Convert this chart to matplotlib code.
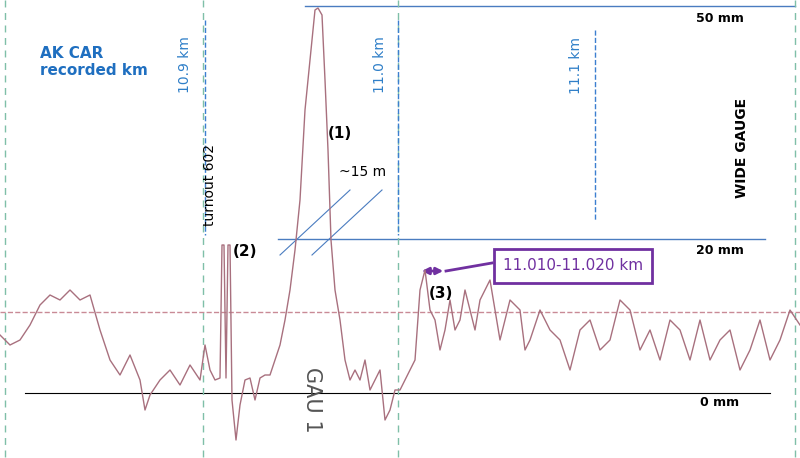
import numpy as np
import matplotlib.pyplot as plt
from matplotlib.patches import FancyArrowPatch

# trace: km position and gauge deviation (mm)
px = [0, 10, 20, 30, 40, 50, 60, 70, 80, 90, 100, 110, 120, 130, 140, 145, 150, 160, 170, 180,
      190, 200, 205, 210, 215, 220, 222, 224, 226, 228, 230, 232, 236, 240, 245, 250, 255, 260,
      265, 270, 275, 280, 285, 290, 295, 300, 305, 310, 315, 318, 322, 325, 328, 331, 335, 340,
      345, 350, 355, 360, 365, 370, 375, 380, 385, 390, 395, 400, 405, 410, 415, 420, 425, 430,
      435, 440, 445, 450, 455, 460, 465, 470, 475, 480, 490, 500, 505, 510, 520, 525, 530, 540,
      550, 560, 570, 580, 590, 600, 610, 620, 630, 640, 650, 660, 670, 680, 690, 700, 710, 720,
      730, 740, 750, 760, 770, 780, 790, 800]
py = [335, 345, 340, 325, 305, 295, 300, 290, 300, 295, 330, 360, 375, 355, 380, 410, 395, 380, 370, 385,
      365, 380, 345, 370, 380, 378, 245, 245, 378, 245, 245, 400, 440, 405, 380, 378, 400, 378,
      375, 375, 360, 345, 320, 290, 250, 200, 110, 60, 10, 8, 15, 80, 150, 240, 290, 320,
      360, 380, 370, 380, 360, 390, 380, 370, 420, 410, 390, 390, 380, 370, 360, 290, 270, 310,
      320, 350, 330, 300, 330, 320, 290, 310, 330, 300, 280, 340, 320, 300, 310, 350, 340, 310,
      330, 340, 370, 330, 320, 350, 340, 300, 310, 350, 330, 360, 320, 330, 360, 320, 360, 340,
      330, 370, 350, 320, 360, 340, 310, 325]

def km(x):
    return 10.9 + (np.asarray(x, float) - 203) / 1960.0

def mm(y):
    return (393 - np.asarray(y, float)) / 7.72

fig = plt.figure(figsize=(8, 4.58), dpi=100)
ax = fig.add_axes([0, 0, 1, 1])
ax.set_xlim(km(0), km(800))
ax.set_ylim(mm(458), mm(0))
ax.axis('off')

# reference lines
ax.plot(km([0, 800]), mm([312, 312]), '--', color='#c98a96', lw=1)
ax.plot(km([25, 770]), mm([393, 393]), color='black', lw=0.8)
ax.plot(km([305, 795]), mm([6, 6]), color='#4a7cc0', lw=1)
ax.plot(km([278, 765]), mm([239, 239]), color='#4a7cc0', lw=1)
for x in [5, 203, 398, 795]:
    ax.plot(km([x, x]), mm([0, 458]), ls=(0, (5, 4)), color='#7fbfa8', lw=1)
for x, y0, y1 in [(205, 20, 235), (398, 20, 235), (595, 30, 220)]:
    ax.plot(km([x, x]), mm([y0, y1]), '--', color='#3c7fd0', lw=1)

# diagonal "~15 m" markers
ax.plot(km([280, 350]), mm([255, 190]), color='#4a7cc0', lw=0.8)
ax.plot(km([312, 382]), mm([255, 190]), color='#4a7cc0', lw=0.8)

# trace
ax.plot(km(px), mm(py), color='#a8707e', lw=1)

blue = '#2f7fc8'
ax.text(km(40), mm(62), 'AK CAR\nrecorded km', color='#1f6fc0', fontsize=11,
        fontweight='bold', va='center', ha='left')
for x, lab in [(185, '10.9 km'), (380, '11.0 km'), (576, '11.1 km')]:
    ax.text(km(x), mm(65), lab, color=blue, fontsize=10, rotation=90, ha='center', va='center')

ax.text(km(210), mm(185), 'turnout 602', rotation=90, fontsize=10, ha='center', va='center')
ax.text(km(245), mm(252), '(2)', fontsize=11, fontweight='bold', ha='center', va='center')
ax.text(km(340), mm(133), '(1)', fontsize=11, fontweight='bold', ha='center', va='center')
ax.text(km(363), mm(172), '~15 m', fontsize=10, ha='center', va='center')
ax.text(km(441), mm(293), '(3)', fontsize=11, fontweight='bold', ha='center', va='center')
ax.text(km(312), mm(400), 'GAU 1', rotation=-90, fontsize=15, color='#555555',
        ha='center', va='center')
ax.text(km(742), mm(148), 'WIDE GAUGE', rotation=90, fontsize=10, fontweight='bold',
        ha='center', va='center')
for y, lab in [(18, '50 mm'), (251, '20 mm'), (402, '0 mm')]:
    ax.text(km(720), mm(y), lab, fontsize=9, fontweight='bold', ha='center', va='center')

purple = '#7030a0'
ax.add_patch(FancyArrowPatch((km(419), mm(271)), (km(446), mm(271)), arrowstyle='<|-|>',
                             mutation_scale=10, color=purple, lw=2))
ax.plot(km([446, 492]), mm([271, 263]), color=purple, lw=2)
ax.text(km(573), mm(266), '11.010-11.020 km', fontsize=11, color=purple, ha='center', va='center',
        bbox=dict(boxstyle='square,pad=0.6', fc='white', ec=purple, lw=2))

fig.savefig('out.png', dpi=100)
